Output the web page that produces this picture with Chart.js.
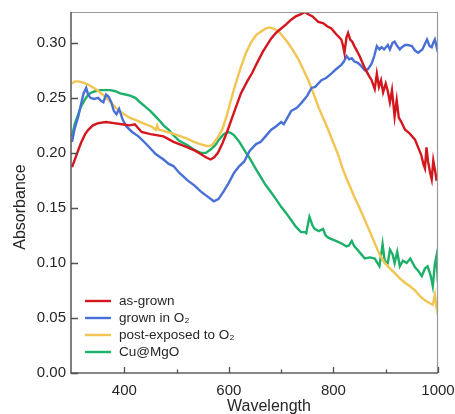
<!DOCTYPE html>
<html>
<head>
<meta charset="utf-8">
<script src="https://cdn.jsdelivr.net/npm/chart.js@4.4.1/dist/chart.umd.min.js"></script>
<style>
html,body{margin:0;padding:0;background:#fff;}
#wrap{width:455px;height:414px;}
</style>
</head>
<body>
<div id="wrap"><canvas id="c" width="455" height="414"></canvas></div>
<script>
// ---- DATA ----
const seriesLabels = ["as-grown", "grown in O\u2082", "post-exposed to O\u2082", "Cu@MgO"];
const seriesColors = ["rgb(212,22,30)", "rgb(72,112,214)", "rgb(242,196,82)", "rgb(28,176,104)"];

const asGrownX = [300,310,317,325,331,340,350,365,380,395,410,420,433,450,475,494,510,521,535,546,556,565,572,579,588,598,610,623,635,645,652,665,681,690,700,710,719,728,738,745,752,760,771,780,788,796,805,815,818,821,825,828,832,836,840,850,860,868,873,876,879,883,887,891,895,900,904,908,912,917,921,925,930,937,945,956,962,968,972,975,978,981,985,988,991,994,997,1000];
const asGrownY = [0.187,0.200,0.209,0.217,0.221,0.225,0.227,0.228,0.227,0.226,0.225,0.226,0.219,0.217,0.215,0.210,0.207,0.205,0.202,0.199,0.196,0.194,0.196,0.200,0.209,0.221,0.237,0.254,0.265,0.273,0.280,0.292,0.304,0.309,0.313,0.317,0.321,0.324,0.326,0.328,0.326,0.324,0.319,0.318,0.315,0.313,0.308,0.303,0.298,0.291,0.305,0.309,0.303,0.301,0.297,0.288,0.277,0.270,0.266,0.262,0.258,0.272,0.260,0.266,0.255,0.263,0.256,0.246,0.257,0.233,0.248,0.232,0.228,0.221,0.218,0.212,0.205,0.198,0.190,0.186,0.205,0.192,0.182,0.176,0.193,0.185,0.176,0.177];

const grownO2X = [300,305,312,318,322,327,330,335,342,350,356,360,365,370,375,380,385,390,397,404,415,427,440,446,460,475,485,494,505,521,535,546,560,571,580,590,600,610,620,629,640,652,661,670,681,690,700,705,719,730,738,750,758,765,777,786,796,805,815,820,825,830,835,840,846,853,860,866,873,878,883,888,892,897,904,908,913,917,922,927,931,937,942,950,956,962,970,975,979,984,988,991,994,997,1000];
const grownO2Y = [0.210,0.222,0.233,0.246,0.254,0.259,0.254,0.250,0.249,0.250,0.247,0.246,0.253,0.251,0.246,0.238,0.235,0.240,0.230,0.224,0.219,0.215,0.209,0.206,0.199,0.194,0.190,0.188,0.182,0.175,0.170,0.165,0.160,0.156,0.158,0.165,0.173,0.182,0.188,0.192,0.202,0.208,0.210,0.215,0.221,0.224,0.228,0.226,0.238,0.241,0.245,0.252,0.259,0.260,0.266,0.268,0.272,0.276,0.280,0.283,0.288,0.285,0.286,0.283,0.282,0.279,0.275,0.276,0.281,0.288,0.297,0.294,0.296,0.294,0.298,0.294,0.300,0.301,0.297,0.294,0.296,0.298,0.298,0.297,0.293,0.291,0.294,0.299,0.303,0.297,0.296,0.300,0.303,0.297,0.291];

const postO2X = [300,306,312,320,331,345,356,370,388,400,410,421,435,452,460,463,466,475,490,508,520,533,545,560,567,571,580,588,596,604,613,623,632,642,652,661,670,677,685,694,703,713,723,733,742,752,761,771,781,790,800,810,818,825,832,840,850,860,870,879,888,898,908,917,927,937,946,956,965,975,982,990,994,997,1000];
const postO2Y = [0.263,0.265,0.265,0.264,0.262,0.258,0.254,0.248,0.239,0.235,0.232,0.230,0.227,0.224,0.221,0.225,0.221,0.220,0.218,0.215,0.213,0.210,0.208,0.206,0.207,0.209,0.215,0.222,0.234,0.248,0.263,0.278,0.290,0.300,0.307,0.310,0.313,0.314,0.313,0.311,0.306,0.300,0.293,0.285,0.276,0.266,0.255,0.242,0.231,0.221,0.209,0.197,0.185,0.177,0.169,0.160,0.150,0.139,0.128,0.118,0.108,0.100,0.095,0.091,0.086,0.082,0.079,0.075,0.070,0.066,0.064,0.062,0.071,0.060,0.053];

const cuMgOX = [300,305,311,317,324,331,338,344,355,363,373,383,392,402,411,421,430,440,450,460,468,475,485,494,505,521,533,546,556,565,574,581,590,598,604,610,620,629,640,652,661,670,681,690,700,710,719,728,738,745,748,754,760,764,772,780,785,790,800,810,818,825,830,835,840,846,853,860,870,879,884,888,892,894,898,904,908,913,917,922,927,933,940,947,956,962,969,975,980,985,988,990,994,997,1000];
const cuMgOY = [0.215,0.226,0.234,0.242,0.248,0.253,0.255,0.256,0.257,0.257,0.257,0.256,0.254,0.253,0.252,0.250,0.246,0.242,0.238,0.233,0.229,0.225,0.221,0.216,0.211,0.207,0.203,0.200,0.200,0.203,0.207,0.212,0.217,0.219,0.218,0.216,0.210,0.203,0.195,0.185,0.178,0.171,0.164,0.158,0.151,0.145,0.139,0.133,0.128,0.128,0.127,0.142,0.134,0.131,0.129,0.131,0.125,0.123,0.121,0.119,0.117,0.115,0.116,0.120,0.115,0.112,0.108,0.104,0.105,0.104,0.100,0.097,0.110,0.117,0.102,0.100,0.112,0.108,0.100,0.110,0.097,0.102,0.100,0.104,0.096,0.093,0.088,0.095,0.097,0.090,0.084,0.079,0.099,0.106,0.082];

const xLabelTicks = [400, 600, 800, 1000];
const xMinorTicks = [500, 700, 900];
const yTickValues = [0.00, 0.05, 0.10, 0.15, 0.20, 0.25, 0.30];
const xTitle = "Wavelength";
const yTitle = "Absorbance";

// ---- BUILD ----
const seriesX = [asGrownX, grownO2X, postO2X, cuMgOX];
const seriesY = [asGrownY, grownO2Y, postO2Y, cuMgOY];
const datasets = seriesLabels.map((lab, i) => ({
  label: lab,
  data: seriesX[i].map((x, j) => ({x: x, y: seriesY[i][j]})),
  borderColor: seriesColors[i],
  backgroundColor: seriesColors[i],
  borderWidth: 2.4,
  pointRadius: 0,
  tension: 0,
  fill: false
}));

const FONT = "'Liberation Sans', Arial, sans-serif";
const TEXT = '#262626';

const framePlugin = {
  id: 'frame',
  afterDraw(chart) {
    const ctx = chart.ctx;
    const a = chart.chartArea;
    const xs = chart.scales.x, ys = chart.scales.y;
    ctx.save();
    // top/right frame
    ctx.strokeStyle = '#9a9a9a';
    ctx.lineWidth = 1.2;
    ctx.beginPath();
    ctx.moveTo(a.left, a.top + 0.5);
    ctx.lineTo(a.right - 0.5, a.top + 0.5);
    ctx.lineTo(a.right - 0.5, a.bottom);
    ctx.stroke();
    // left/bottom axes
    ctx.strokeStyle = '#606060';
    ctx.lineWidth = 1.6;
    ctx.beginPath();
    ctx.moveTo(a.left, a.top);
    ctx.lineTo(a.left, a.bottom);
    ctx.lineTo(a.right, a.bottom);
    ctx.stroke();
    // inward ticks
    ctx.lineWidth = 1.3;
    ctx.strokeStyle = '#505050';
    ctx.beginPath();
    xLabelTicks.forEach(v => {
      const px = Math.round(xs.getPixelForValue(v)) + 0.5;
      ctx.moveTo(px, a.bottom); ctx.lineTo(px, a.bottom - 6);
    });
    xMinorTicks.forEach(v => {
      const px = Math.round(xs.getPixelForValue(v)) + 0.5;
      ctx.moveTo(px, a.bottom); ctx.lineTo(px, a.bottom - 3.5);
    });
    yTickValues.forEach(v => {
      const py = Math.round(ys.getPixelForValue(v)) + 0.5;
      ctx.moveTo(a.left, py); ctx.lineTo(a.left + 7, py);
    });
    ctx.stroke();
    // axis titles (placed as in the reference figure)
    ctx.fillStyle = TEXT;
    ctx.font = "16px " + FONT;
    ctx.textAlign = 'center';
    ctx.textBaseline = 'alphabetic';
    ctx.fillText(xTitle, 269, 411);
    ctx.save();
    ctx.translate(24.5, 207);
    ctx.rotate(-Math.PI / 2);
    ctx.fillText(yTitle, 0, 0);
    ctx.restore();
    // legend inside the plot
    const lx0 = a.left + 14, lx1 = a.left + 40, tx = a.left + 48;
    const ly0 = a.bottom - 72, dy = 17.0;
    ctx.font = "13.5px " + FONT;
    ctx.textBaseline = 'middle';
    ctx.textAlign = 'left';
    chart.data.datasets.forEach((ds, i) => {
      const y = ly0 + i * dy;
      ctx.strokeStyle = ds.borderColor;
      ctx.lineWidth = 2.4;
      ctx.beginPath();
      ctx.moveTo(lx0, y); ctx.lineTo(lx1, y);
      ctx.stroke();
      ctx.fillStyle = TEXT;
      ctx.fillText(ds.label, tx, y + 0.5);
    });
    ctx.restore();
  }
};

new Chart(document.getElementById('c'), {
  type: 'line',
  data: { datasets: datasets },
  plugins: [framePlugin],
  options: {
    responsive: false,
    animation: false,
    devicePixelRatio: 1,
    layout: { padding: { left: 0, right: 17, top: 12, bottom: 0 } },
    plugins: { legend: { display: false }, tooltip: { enabled: false } },
    scales: {
      x: {
        type: 'linear',
        min: 298, max: 1000,
        grid: { display: false, drawTicks: false },
        border: { display: false },
        afterBuildTicks: s => { s.ticks = xLabelTicks.map(v => ({value: v})); },
        afterFit: s => { s.height = 41; s.paddingLeft = 0; s.paddingRight = 0; },
        ticks: { padding: 9, color: TEXT, font: { family: FONT, size: 15 }, maxRotation: 0, autoSkip: false, callback: v => String(v) }
      },
      y: {
        type: 'linear',
        min: 0, max: 0.328,
        grid: { display: false, drawTicks: false },
        border: { display: false },
        afterBuildTicks: s => { s.ticks = yTickValues.map(v => ({value: v})); },
        afterFit: s => { s.width = 71; s.paddingTop = 0; s.paddingBottom = 0; },
        ticks: { padding: 5, color: TEXT, font: { family: FONT, size: 15 }, callback: v => Number(v).toFixed(2) }
      }
    }
  }
});
</script>
</body>
</html>
